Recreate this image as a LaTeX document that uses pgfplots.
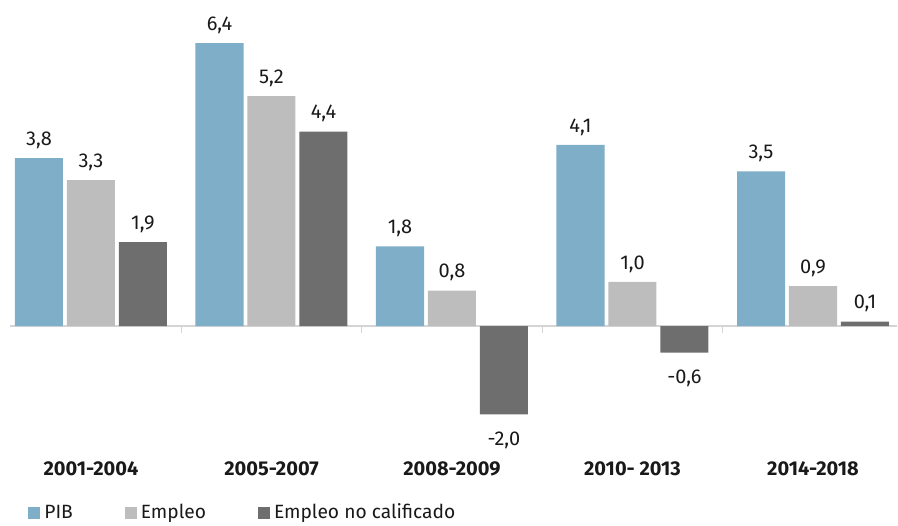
\documentclass[border=0pt]{standalone}
\usepackage{pgfplots}
\pgfplotsset{compat=1.18}
\usepackage{fontspec}
\setmainfont{Fira Sans}
\definecolor{cpib}{RGB}{127,174,201}
\definecolor{cemp}{RGB}{189,189,189}
\definecolor{cnoc}{RGB}{110,110,110}
\definecolor{czero}{RGB}{212,212,212}
\definecolor{ctext}{RGB}{25,25,25}
\begin{document}
\begin{tikzpicture}
\begin{axis}[
 scale only axis, width=449pt, height=229.3pt,
 xmin=-0.504, xmax=4.471, ymin=-3.0, ymax=7.376,
 clip=false,
 axis x line*=bottom, axis y line=none,
 x axis line style={draw=none},
 xtick={0,1,2,3,4},
 xticklabels={2001-2004,2005-2007,2008-2009,2010- 2013,2014-2018},
 major tick length=0pt,
 xticklabel style={font=\bfseries\fontsize{10}{12}\selectfont, text=ctext, anchor=north, inner sep=0pt, yshift=-1.5pt},
 ybar, bar width=0.266,
 nodes near coords,
 visualization depends on={rawy \as \myrawy},
 every node near coord/.append style={font=\fontsize{10}{12}\selectfont, text=ctext, inner sep=0pt,
   yshift={ifthenelse(\myrawy<0,-8.5,4.5)*1pt}},
 /pgf/number format/.cd, fixed, fixed zerofill, precision=1, use comma, assume math mode=true,
 /pgfplots/.cd,
 legend columns=3,
 legend style={draw=none, fill=none, at={(0,0)}, anchor=north west, xshift=14pt, yshift=-20.5pt,
   inner sep=0pt, font=\fontsize{9.6}{11.5}\selectfont, text=ctext,
   /tikz/every even column/.append style={column sep=24pt},
   nodes={inner sep=2pt}},
 legend image code/.code={\fill[#1] (0pt,-3pt) rectangle (6pt,3pt);},
]
\draw[czero, line width=0.8pt] (axis cs:-0.449,0) -- (axis cs:4.466,0);
\pgfplotsinvokeforeach{0.5,1.5,2.5,3.5}{\draw[czero, line width=0.6pt] (axis cs:#1,0) -- ([yshift=-3.5pt]axis cs:#1,0);}
\addplot[fill=cpib, draw=none, bar shift=-0.288] coordinates {(0,3.8) (1,6.4) (2,1.8) (3,4.1) (4,3.5)};
\addplot[fill=cemp, draw=none, bar shift=0] coordinates {(0,3.3) (1,5.2) (2,0.8) (3,1.0) (4,0.9)};
\addplot[fill=cnoc, draw=none, bar shift=0.288] coordinates {(0,1.9) (1,4.4) (2,-2.0) (3,-0.6) (4,0.1)};
\legend{PIB,Empleo,Empleo no calificado}
\path (rel axis cs:0,1) rectangle ([yshift=-31.2pt]rel axis cs:1,0);
\end{axis}
\end{tikzpicture}
\end{document}
